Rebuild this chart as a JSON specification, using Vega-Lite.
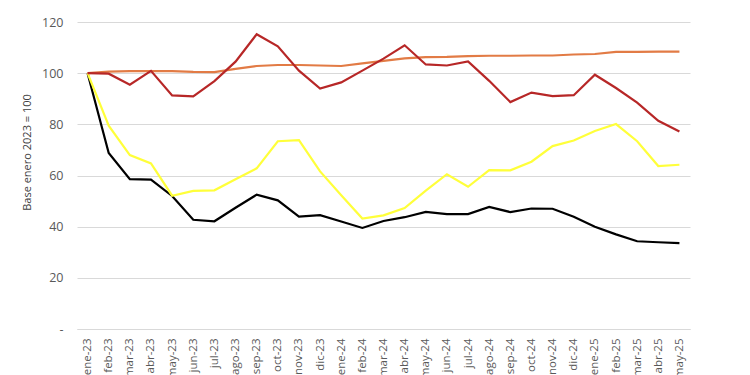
{
  "$schema": "https://vega.github.io/schema/vega-lite/v6.json",
  "width": 613,
  "height": 307,
  "padding": {"left": 77, "top": 22, "right": 60, "bottom": 46},
  "autosize": {"type": "none"},
  "background": "white",
  "config": {
    "view": {"stroke": null},
    "font": "Open Sans",
    "axis": {"labelColor": "#595959", "titleColor": "#404040", "labelFont": "Open Sans", "titleFont": "Open Sans"}
  },
  "data": {
    "values": [
      {"m": "ene-23", "rojo": 100, "naranja": 100, "amarillo": 100, "negro": 100},
      {"m": "feb-23", "rojo": 99.8, "naranja": 100.6, "amarillo": 79.5, "negro": 68.8},
      {"m": "mar-23", "rojo": 95.5, "naranja": 100.8, "amarillo": 68, "negro": 58.6},
      {"m": "abr-23", "rojo": 100.9, "naranja": 100.8, "amarillo": 64.7, "negro": 58.4},
      {"m": "may-23", "rojo": 91.3, "naranja": 100.8, "amarillo": 52.1, "negro": 52},
      {"m": "jun-23", "rojo": 90.9, "naranja": 100.5, "amarillo": 54, "negro": 42.7},
      {"m": "jul-23", "rojo": 96.9, "naranja": 100.4, "amarillo": 54.2, "negro": 42.1},
      {"m": "ago-23", "rojo": 104.5, "naranja": 101.7, "amarillo": 58.5, "negro": 47.4},
      {"m": "sep-23", "rojo": 115.2, "naranja": 102.8, "amarillo": 62.8, "negro": 52.5},
      {"m": "oct-23", "rojo": 110.5, "naranja": 103.2, "amarillo": 73.4, "negro": 50.3},
      {"m": "nov-23", "rojo": 101, "naranja": 103.2, "amarillo": 73.8, "negro": 43.9},
      {"m": "dic-23", "rojo": 94, "naranja": 103, "amarillo": 61.6, "negro": 44.5},
      {"m": "ene-24", "rojo": 96.4, "naranja": 102.8, "amarillo": 52.3, "negro": 42},
      {"m": "feb-24", "rojo": 101, "naranja": 103.8, "amarillo": 43.2, "negro": 39.5},
      {"m": "mar-24", "rojo": 105.7, "naranja": 104.8, "amarillo": 44.4, "negro": 42.2},
      {"m": "abr-24", "rojo": 110.9, "naranja": 105.8, "amarillo": 47.3, "negro": 43.7},
      {"m": "may-24", "rojo": 103.4, "naranja": 106.3, "amarillo": 54.1, "negro": 45.8},
      {"m": "jun-24", "rojo": 103, "naranja": 106.4, "amarillo": 60.5, "negro": 44.9},
      {"m": "jul-24", "rojo": 104.6, "naranja": 106.7, "amarillo": 55.6, "negro": 44.9},
      {"m": "ago-24", "rojo": 97, "naranja": 106.8, "amarillo": 62.1, "negro": 47.7},
      {"m": "sep-24", "rojo": 88.7, "naranja": 106.8, "amarillo": 62, "negro": 45.7},
      {"m": "oct-24", "rojo": 92.4, "naranja": 106.9, "amarillo": 65.4, "negro": 47.1},
      {"m": "nov-24", "rojo": 91, "naranja": 106.9, "amarillo": 71.5, "negro": 47},
      {"m": "dic-24", "rojo": 91.4, "naranja": 107.3, "amarillo": 73.7, "negro": 43.9},
      {"m": "ene-25", "rojo": 99.4, "naranja": 107.5, "amarillo": 77.4, "negro": 40},
      {"m": "feb-25", "rojo": 94.2, "naranja": 108.3, "amarillo": 80.1, "negro": 37},
      {"m": "mar-25", "rojo": 88.5, "naranja": 108.3, "amarillo": 73.4, "negro": 34.3},
      {"m": "abr-25", "rojo": 81.4, "naranja": 108.4, "amarillo": 63.7, "negro": 33.9},
      {"m": "may-25", "rojo": 77.2, "naranja": 108.4, "amarillo": 64.2, "negro": 33.6}
    ]
  },
  "transform": [
    {"fold": ["negro", "amarillo", "naranja", "rojo"], "as": ["serie", "valor"]}
  ],
  "mark": {"type": "line", "strokeWidth": 2.2},
  "encoding": {
    "x": {
      "field": "m",
      "type": "ordinal",
      "sort": null,
      "scale": {"type": "point", "padding": 0.5},
      "axis": {
        "title": null,
        "labelAngle": -90,
        "labelAlign": "right",
        "labelBaseline": "middle",
        "labelFontSize": 11.5,
        "labelPadding": 9,
        "ticks": false,
        "domain": true,
        "domainColor": "#D9D9D9",
        "grid": false,
        "labelOverlap": false
      }
    },
    "y": {
      "field": "valor",
      "type": "quantitative",
      "scale": {"domain": [0, 120], "nice": false},
      "axis": {
        "title": "Base enero 2023 = 100",
        "titleFontSize": 11,
        "titleFontWeight": "normal",
        "titleX": -45,
        "titleY": 130,
        "titleAngle": 270,
        "titleAlign": "center",
        "titleBaseline": "bottom",
        "values": [0, 20, 40, 60, 80, 100, 120],
        "labelExpr": "datum.value == 0 ? '-' : datum.label",
        "labelFontSize": 12.5,
        "labelPadding": 14,
        "ticks": false,
        "domain": false,
        "grid": true,
        "gridColor": "#D9D9D9",
        "gridWidth": 1
      }
    },
    "color": {
      "field": "serie",
      "type": "nominal",
      "scale": {
        "domain": ["negro", "amarillo", "naranja", "rojo"],
        "range": ["#000000", "#FFFF3A", "#E27B45", "#B72727"]
      },
      "legend": null
    }
  }
}
